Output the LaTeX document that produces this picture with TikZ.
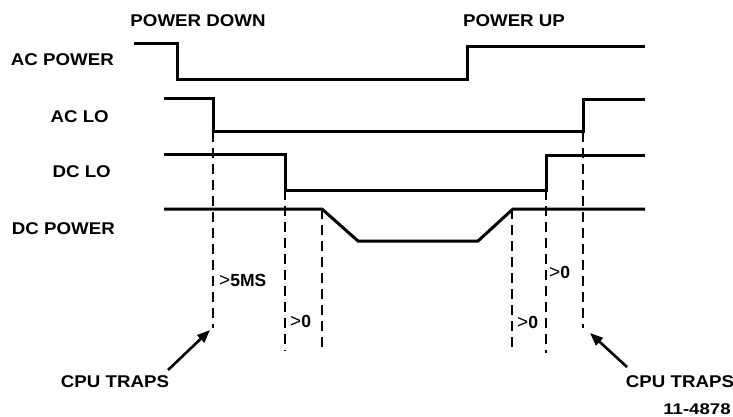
\documentclass[tikz,border=0pt]{standalone}
\usepackage{fontspec}
\setmainfont{Liberation Sans}
\newfontfamily\widefont[FakeStretch=1.1]{Liberation Sans}
\newfontfamily\numfont[FakeStretch=1.2]{Liberation Sans}
\usetikzlibrary{arrows.meta}
\newcommand{\gt}{{\mdseries\fontsize{19}{18}\selectfont>}}
\begin{document}
\begin{tikzpicture}[x=1pt,y=-1pt,
  sig/.style={line width=3pt,line join=miter},
  guide/.style={line width=2.2pt,dash pattern=on 10pt off 6pt},
  lbl/.style={inner sep=0pt,font=\widefont\bfseries\fontsize{17}{19}\selectfont},
  small/.style={inner sep=0pt,font=\bfseries\fontsize{17.5}{18}\selectfont},
  trap/.style={line width=2.6pt,-{Triangle[length=13pt,width=10pt]}}]
\useasboundingbox (0,0) rectangle (733,417);
% headings
\node[lbl] (pd) at (198,21) {POWER DOWN};
\node[lbl] (pu) at (514,21) {POWER UP};
% signal names
\node[lbl,anchor=east] (acp) at (114,60) {AC POWER};
\node[lbl,anchor=east] (aclo) at (109,117) {AC LO};
\node[lbl,anchor=east] (dclo) at (111,172) {DC LO};
\node[lbl,anchor=east] (dcp) at (115,229) {DC POWER};
% waveforms
\draw[sig] (134,44) -- (177,44) -- (177,80) -- (467,80) -- (467,47) -- (645,47);
\draw[sig] (164,99) -- (213,99) -- (213,132) -- (583,132) -- (583,100) -- (645,100);
\draw[sig] (164,154) -- (285,154) -- (285,190) -- (546,190) -- (546,155) -- (645,155);
\draw[sig] (164,209) -- (322,209) -- (358,241) -- (478,241) -- (513,209) -- (645,209);
% guide lines
\coordinate (g1t) at (213,132); \coordinate (g1b) at (213,328);
\coordinate (g2t) at (285,190); \coordinate (g2b) at (285,351);
\coordinate (g3t) at (322,209); \coordinate (g3b) at (322,351);
\coordinate (g4t) at (512,209); \coordinate (g4b) at (512,353);
\coordinate (g5t) at (546,190); \coordinate (g5b) at (546,353);
\coordinate (g6t) at (583,132); \coordinate (g6b) at (583,328);
\foreach \i in {1,...,6} \draw[guide] (g\i t) -- (g\i b);
% timing labels
\node[small,anchor=west] (t1) at (219,280) {\gt5MS};
\node[small,anchor=west] (t2) at (290,321) {\gt0};
\node[small,anchor=west] (t3) at (517,322) {\gt0};
\node[small,anchor=west] (t4) at (549,272) {\gt0};
% CPU traps
\node[lbl] (cl) at (115,382) {CPU TRAPS};
\node[lbl] (cr) at (680,382) {CPU TRAPS};
\coordinate (al) at (168,370);
\coordinate (ar) at (627,367);
\coordinate (hl) at (210,330);
\coordinate (hr) at (590,333);
\draw[trap] (al) -- (hl);
\draw[trap] (ar) -- (hr);
\node[inner sep=0pt,font=\numfont\bfseries\fontsize{15.5}{17}\selectfont] (fig) at (697,409) {11-4878};
\end{tikzpicture}
\end{document}
